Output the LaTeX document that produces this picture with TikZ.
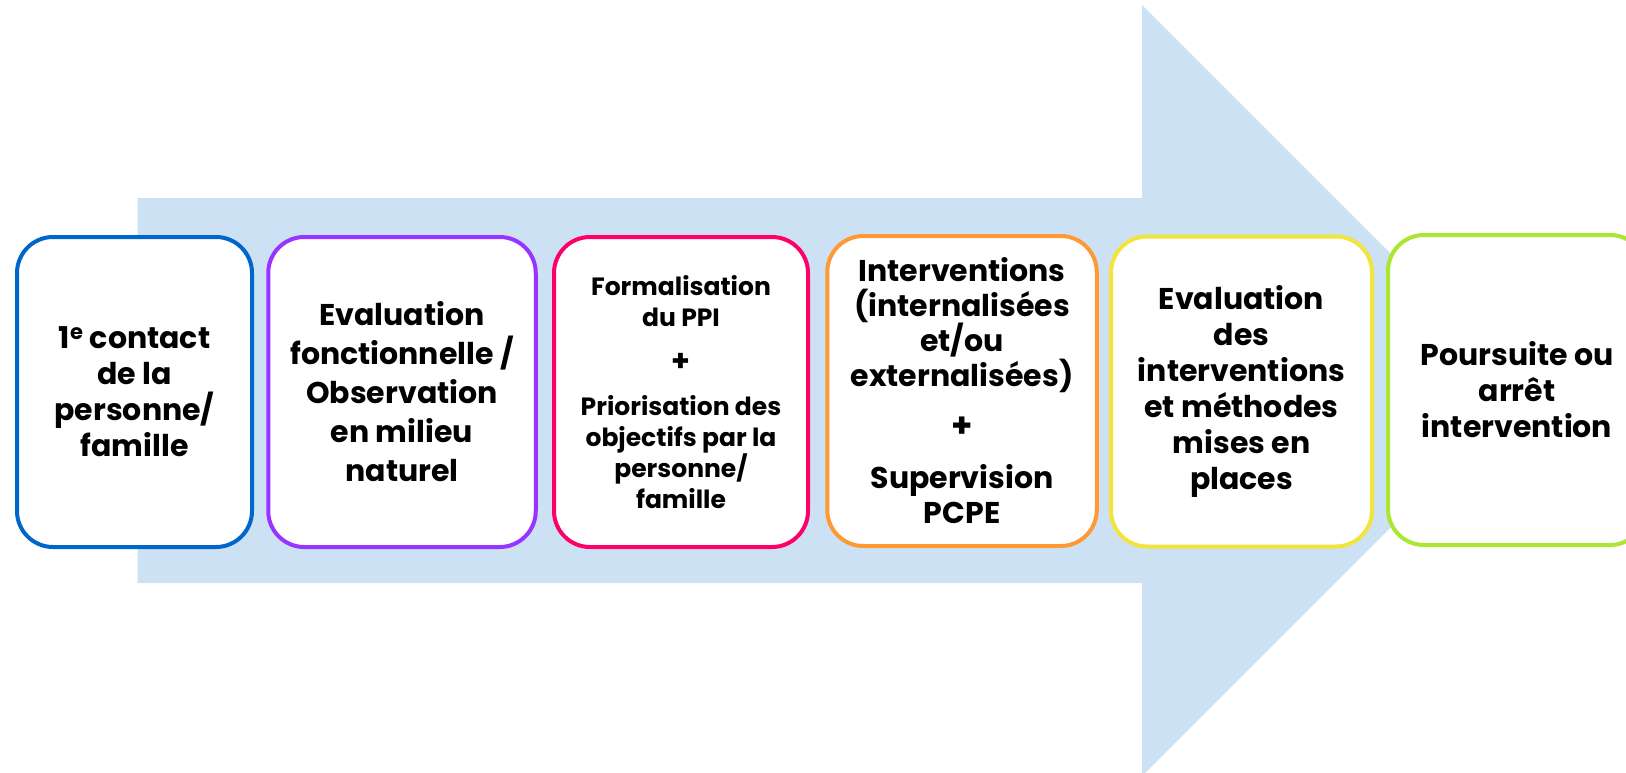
\documentclass[tikz,border=0pt]{standalone}
\usepackage{fontspec}
\setmainfont{Poppins}
\definecolor{arrowblue}{RGB}{204,226,244}
\definecolor{cblue}{RGB}{0,102,204}
\definecolor{cpurple}{RGB}{153,51,255}
\definecolor{cpink}{RGB}{255,0,102}
\definecolor{corange}{RGB}{255,153,51}
\definecolor{cyellow}{RGB}{242,228,58}
\definecolor{cgreen}{RGB}{170,230,50}
\tikzset{
  stepbox/.style={draw, fill=white, line width=4pt, rounded corners=36pt,
    minimum height=310pt, align=center, inner sep=0pt, text=black},
  bigtext/.style={font=\fontsize{30}{36}\selectfont\bfseries},
  smalltext/.style={font=\fontsize{25}{30.7}\selectfont\bfseries},
}
\begin{document}
\begin{tikzpicture}[x=1pt,y=-1pt]
\useasboundingbox (0,0) rectangle (1626,772);
\fill[arrowblue] (137.5,198) -- (1142,198) -- (1142,5) -- (1527.5,390.5)
  -- (1142,776) -- (1142,583) -- (137.5,583) -- cycle;
\node[stepbox, bigtext, draw=cblue, minimum width=235pt] (b1) at (134.5,392)
  {1\textsuperscript{e} contact\\de la\\personne/\\famille};
\node[stepbox, draw=cpurple, minimum width=267.5pt,
  font=\fontsize{30}{39}\selectfont\bfseries] (b2) at (402,392)
  {Evaluation\\fonctionnelle /\\Observation\\en milieu\\naturel};
\node[stepbox, smalltext, draw=cpink, minimum width=254pt] (b3) at (681,392)
  {Formalisation\\du PPI\\[14pt]{\fontsize{30}{30}\selectfont +}\\[14pt]Priorisation des\\objectifs par la\\personne/\\famille};
\node[stepbox, bigtext, draw=corange, minimum width=269.5pt,
  font=\fontsize{30}{35}\selectfont\bfseries] (b4) at (962,391)
  {Interventions\\(internalisées\\et/ou\\externalisées)\\[16pt]{\fontsize{34}{35}\selectfont +}\\[16pt]Supervision\\PCPE};
\node[stepbox, bigtext, draw=cyellow, minimum width=261pt] (b5) at (1241.5,391.5)
  {Evaluation\\des\\interventions\\et méthodes\\mises en\\places};
\node[stepbox, bigtext, draw=cgreen, minimum width=258pt] (b6) at (1517,390)
  {Poursuite ou\\arrêt\\intervention};
\end{tikzpicture}
\end{document}
